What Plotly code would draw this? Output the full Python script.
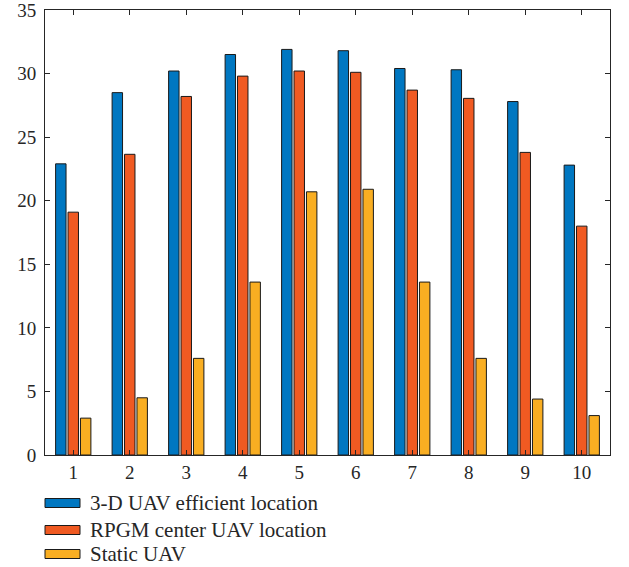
import plotly.graph_objects as go

categories = [1, 2, 3, 4, 5, 6, 7, 8, 9, 10]
series_names = ["3-D UAV efficient location", "RPGM center UAV location", "Static UAV"]
efficient = [22.9, 28.5, 30.2, 31.5, 31.9, 31.8, 30.4, 30.3, 27.8, 22.8]
rpgm = [19.1, 23.65, 28.2, 29.8, 30.2, 30.1, 28.7, 28.05, 23.8, 18.0]
static = [2.9, 4.5, 7.6, 13.6, 20.7, 20.9, 13.6, 7.6, 4.4, 3.1]
y_ticks = [0, 5, 10, 15, 20, 25, 30, 35]
colors = ["#0077C1", "#F05A22", "#F9AE22"]

FONT = '"Liberation Serif", "DejaVu Serif", serif'
AXC = "#262626"

fig = go.Figure()
for name, vals, col in zip(series_names, [efficient, rpgm, static], colors):
    fig.add_trace(go.Bar(
        x=categories, y=vals, name=name,
        marker=dict(color=col, line=dict(color="#1a1a1a", width=1)),
        showlegend=False,
    ))

fig.update_layout(
    width=629, height=567,
    margin=dict(l=45, r=19, t=10, b=112),
    paper_bgcolor="white", plot_bgcolor="white",
    barmode="group", bargap=0.34, bargroupgap=0.16,
    font=dict(family=FONT, size=18, color=AXC),
)
fig.update_xaxes(
    range=[0.5, 10.5], tickvals=categories, ticktext=[str(c) for c in categories],
    showline=True, linecolor=AXC, linewidth=1, mirror="ticks",
    ticks="inside", ticklen=5, tickcolor=AXC, showgrid=False, zeroline=False,
    tickfont=dict(family=FONT, size=19, color=AXC), ticklabeloverflow="allow",
    automargin=False,
)
fig.update_yaxes(
    range=[0, 35], tickvals=y_ticks,
    showline=True, linecolor=AXC, linewidth=1, mirror="ticks",
    ticks="inside", ticklen=5, tickcolor=AXC, showgrid=False, zeroline=False,
    tickfont=dict(family=FONT, size=19, color=AXC), ticklabeloverflow="allow",
    automargin=False, ticklabelstandoff=4,
)

# custom legend below the axes (MATLAB style wide swatches)
row_y = [503, 530, 554]
for name, col, yy in zip(series_names, colors, row_y):
    fig.add_shape(type="rect", xref="paper", yref="paper",
                  x0=0.0, x1=(80 - 45) / 565,
                  y0=(455 - (yy + 4.5)) / 445, y1=(455 - (yy - 4.5)) / 445,
                  fillcolor=col, line=dict(color="#1a1a1a", width=1))
    fig.add_annotation(xref="paper", yref="paper",
                       x=(88 - 45) / 565, y=(455 - yy) / 445,
                       text=name, showarrow=False, xanchor="left", yanchor="middle",
                       font=dict(family=FONT, size=21, color=AXC))

fig.write_html("out.html")
